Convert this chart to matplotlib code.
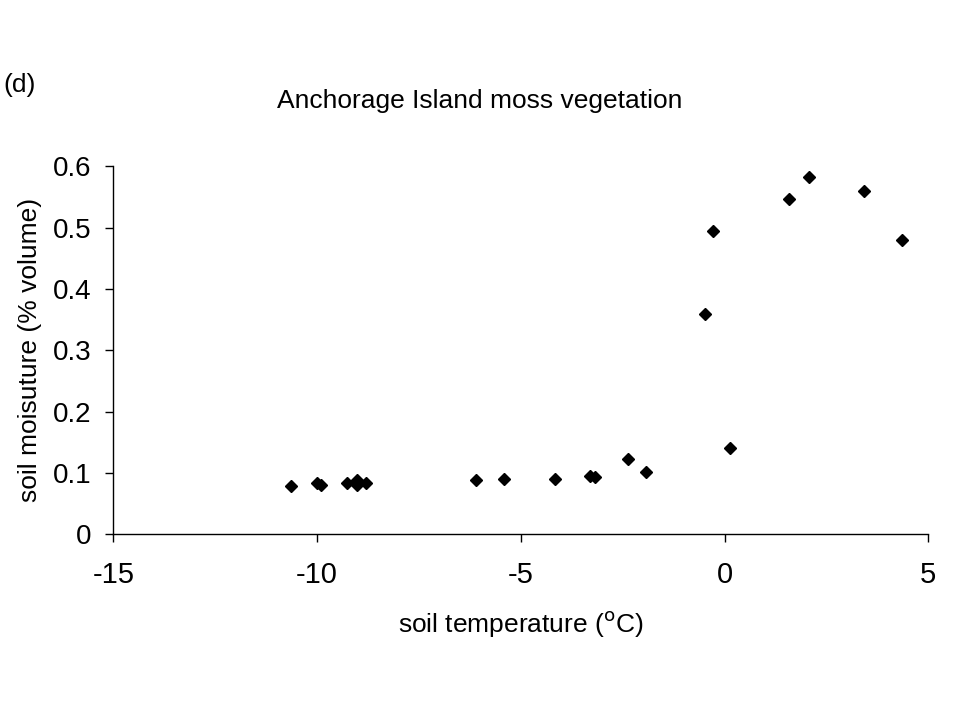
import matplotlib
matplotlib.use("Agg")
import matplotlib.pyplot as plt

plt.rcParams['font.family'] = ['Liberation Sans', 'DejaVu Sans']

# soil temperature (deg C) and soil moisture
temperature = [-10.63, -10.00, -9.90, -9.26, -9.03, -9.03, -8.80, -6.11, -5.40,
               -4.17, -3.29, -3.17, -2.38, -1.93, -0.48, -0.28, 0.14, 1.59,
               2.08, 3.43, 4.36]
moisture = [0.079, 0.083, 0.081, 0.084, 0.088, 0.081, 0.083, 0.088, 0.090,
            0.090, 0.095, 0.093, 0.123, 0.101, 0.359, 0.494, 0.141, 0.546,
            0.582, 0.559, 0.480]

x_ticks = [-15, -10, -5, 0, 5]
y_ticks = [0, 0.1, 0.2, 0.3, 0.4, 0.5, 0.6]
y_tick_labels = ["0", "0.1", "0.2", "0.3", "0.4", "0.5", "0.6"]

fig = plt.figure(figsize=(9.6, 7.2), dpi=100)
ax = fig.add_axes([0.118, 0.258, 0.849, 0.511])

ax.plot(temperature, moisture, linestyle='none', marker='D', markersize=6,
        color='black', clip_on=False)

ax.set_xlim(-15, 5)
ax.set_ylim(0, 0.6)
ax.set_xticks(x_ticks)
ax.set_xticklabels([str(t) for t in x_ticks])
ax.set_yticks(y_ticks)
ax.set_yticklabels(y_tick_labels)

for s in ['top', 'right']:
    ax.spines[s].set_visible(False)
for s in ['left', 'bottom']:
    ax.spines[s].set_linewidth(1.0)

ax.tick_params(axis='x', direction='out', length=5.5, width=1.0,
               labelsize=21, pad=14)
ax.tick_params(axis='y', direction='out', length=5.5, width=1.0,
               labelsize=20, pad=10)

ax.set_xlabel("soil temperature ($^{\\rm o}$C)", fontsize=19, labelpad=14)
ax.set_ylabel("soil moisuture (% volume)", fontsize=19, labelpad=8)

fig.text(0.5, 0.86, "Anchorage Island moss vegetation", fontsize=19,
         ha='center', va='center')
fig.text(0.003, 0.882, "(d)", fontsize=19, ha='left', va='center')

fig.savefig("out.png", dpi=100, facecolor='white')
